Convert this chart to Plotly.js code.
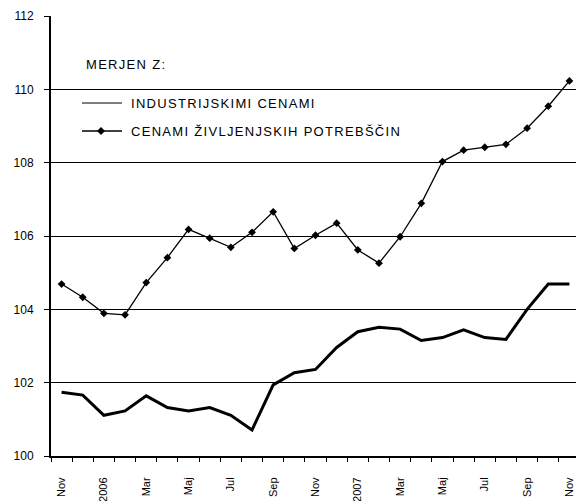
<!DOCTYPE html>
<html><head><meta charset="utf-8">
<script src="https://cdn.plot.ly/plotly-3.0.1.min.js"></script>
<style>
html,body{margin:0;padding:0;overflow:hidden;background:#fff}
#chart{width:580px;height:501px}
.annotation-text{letter-spacing:1.3px}
</style></head><body><div id="chart"></div><script>
// ---- data ----
const months = ['Nov 2005','Dec 2005','Jan 2006','Feb 2006','Mar 2006','Apr 2006','Maj 2006','Jun 2006','Jul 2006','Avg 2006','Sep 2006','Okt 2006','Nov 2006','Dec 2006','Jan 2007','Feb 2007','Mar 2007','Apr 2007','Maj 2007','Jun 2007','Jul 2007','Avg 2007','Sep 2007','Okt 2007','Nov 2007'];
const tickLabels = ['Nov','2006','Mar','Maj','Jul','Sep','Nov','2007','Mar','Maj','Jul','Sep','Nov'];
const industrial = [101.74,101.66,101.11,101.23,101.64,101.32,101.23,101.32,101.11,100.71,101.94,102.27,102.36,102.96,103.39,103.51,103.46,103.15,103.23,103.44,103.23,103.18,104.0,104.69,104.69];
const consumer = [104.69,104.33,103.89,103.85,104.73,105.41,106.18,105.94,105.69,106.10,106.66,105.66,106.02,106.35,105.62,105.26,105.98,106.89,108.03,108.34,108.42,108.50,108.94,109.54,110.23];
const yTicks = [100,102,104,106,108,110,112];
const gridTicks = [102,104,106,108,110];
const legendTitle = 'MERJEN Z:';
const seriesNames = ['INDUSTRIJSKIMI CENAMI','CENAMI ŽIVLJENJSKIH POTREBŠČIN'];

// ---- layout geometry ----
const W = 580, H = 501, ML = 51, MR = 0, MT = 16, MB = 45;
const PW = W - ML - MR, PH = H - MT - MB;
const px = v => (v - ML) / PW;
const py = v => (MT + PH - v) / PH;

const idx = months.map((m, i) => i);
const tickIdx = idx.filter(i => i % 2 === 0);
const FONT = 'Arial, "Liberation Sans", sans-serif';
const xRange = [-0.5, idx.length - 0.5];
const yRange = [yTicks[0], yTicks[yTicks.length - 1]];

const traces = [
  // helper trace that activates the overlay axes (boundary ticks + grid)
  {x: [null], y: [null], xaxis: 'x2', yaxis: 'y2', showlegend: false, hoverinfo: 'skip', type: 'scatter', mode: 'lines'},
  {x: idx, y: industrial, name: seriesNames[0], mode: 'lines', type: 'scatter',
   line: {color: '#000', width: 3}, showlegend: false, hoverinfo: 'skip'},
  {x: idx, y: consumer, name: seriesNames[1], mode: 'lines+markers', type: 'scatter',
   line: {color: '#000', width: 1.3}, marker: {symbol: 'diamond', size: 6, color: '#000'},
   showlegend: false, hoverinfo: 'skip'}
];

const dx = 4 / PW, dy = 4 / PH;
const mx = px(101), my = py(131);
const shapes = [
  {type: 'line', xref: 'paper', yref: 'paper', x0: px(82), x1: px(122), y0: py(103), y1: py(103), line: {color: '#000', width: 1}},
  {type: 'line', xref: 'paper', yref: 'paper', x0: px(82), x1: px(122), y0: py(131), y1: py(131), line: {color: '#000', width: 1.3}},
  {type: 'path', xref: 'paper', yref: 'paper',
   path: `M ${mx-dx} ${my} L ${mx} ${my+dy} L ${mx+dx} ${my} L ${mx} ${my-dy} Z`,
   fillcolor: '#000', line: {color: '#000', width: 0}}
];
const annotations = [
  {text: legendTitle, xref: 'paper', yref: 'paper', x: px(84), y: py(65), xanchor: 'left', yanchor: 'middle', showarrow: false, font: {family: FONT, size: 13, color: '#000'}},
  {text: seriesNames[0], xref: 'paper', yref: 'paper', x: px(129), y: py(103), xanchor: 'left', yanchor: 'middle', showarrow: false, font: {family: FONT, size: 13, color: '#000'}},
  {text: seriesNames[1], xref: 'paper', yref: 'paper', x: px(129), y: py(131), xanchor: 'left', yanchor: 'middle', showarrow: false, font: {family: FONT, size: 13, color: '#000'}}
];

const layout = {
  width: W, height: H,
  margin: {l: ML, r: MR, t: MT, b: MB, pad: 0},
  paper_bgcolor: '#fff', plot_bgcolor: '#fff',
  showlegend: false,
  hovermode: false,
  xaxis: {
    range: xRange, tickmode: 'array', tickvals: tickIdx, ticktext: tickLabels,
    ticks: '', tickangle: -90, showgrid: false, zeroline: false,
    showline: true, linecolor: '#000', linewidth: 2,
    ticklabelstandoff: 15,
    tickfont: {family: FONT, size: 11, color: '#000'},
    fixedrange: true
  },
  xaxis2: {
    overlaying: 'x', anchor: 'y', side: 'bottom', range: xRange,
    tickmode: 'linear', tick0: -0.5, dtick: 1,
    ticks: 'outside', ticklen: 5, tickwidth: 1, tickcolor: '#000',
    showticklabels: false, showgrid: false, zeroline: false, showline: false, fixedrange: true
  },
  yaxis: {
    range: yRange, tickmode: 'array', tickvals: yTicks,
    showgrid: false, zeroline: false,
    showline: true, linecolor: '#000', linewidth: 2,
    ticks: 'outside', ticklen: 5, tickwidth: 1, tickcolor: '#000',
    ticklabelstandoff: 8,
    tickfont: {family: FONT, size: 12, color: '#000'},
    fixedrange: true
  },
  yaxis2: {
    overlaying: 'y', anchor: 'x', range: yRange, tickmode: 'array', tickvals: gridTicks,
    showgrid: true, gridcolor: '#000', gridwidth: 1, showticklabels: false, ticks: '',
    zeroline: false, showline: false, fixedrange: true
  },
  shapes: shapes,
  annotations: annotations
};

Plotly.newPlot('chart', traces, layout, {displayModeBar: false, staticPlot: true});
</script></body></html>
